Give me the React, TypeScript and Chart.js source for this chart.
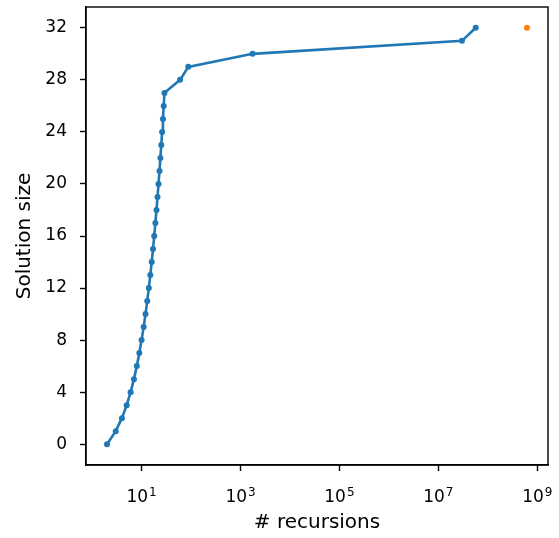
import React, { useEffect, useRef } from "react";
import { Chart, registerables } from "chart.js";

Chart.register(...registerables);

const recursions = [2, 3, 4, 5, 6, 7, 8, 9, 10, 11, 12, 13, 14, 15, 16, 17, 18, 19, 20, 21, 22, 23, 24, 25, 26, 27, 28, 29, 60, 88, 1750, 30000000, 57000000];
const solutionSize = [0, 1, 2, 3, 4, 5, 6, 7, 8, 9, 10, 11, 12, 13, 14, 15, 16, 17, 18, 19, 20, 21, 22, 23, 24, 25, 26, 27, 28, 29, 30, 31, 32];
const extraX = [620000000];
const extraY = [32];
const xTickValues = [10, 1000, 100000, 10000000, 1000000000];
const xTickBase = "10";
const xTickExponents = ["1", "3", "5", "7", "9"];
const yTickValues = [0, 4, 8, 12, 16, 20, 24, 28, 32];

const FONT = "'DejaVu Sans', sans-serif";

const boxPlugin = {
  id: "box",
  afterDraw(chart: any) {
    const { ctx, chartArea } = chart;
    ctx.save();
    ctx.strokeStyle = "#000";
    ctx.lineWidth = 1.4;
    ctx.strokeRect(chartArea.left, chartArea.top, chartArea.right - chartArea.left, chartArea.bottom - chartArea.top);
    // log tick labels with superscript exponents
    const xs = chart.scales.x;
    ctx.fillStyle = "#000";
    ctx.textBaseline = "alphabetic";
    ctx.textAlign = "left";
    xTickValues.forEach((v, i) => {
      const px = xs.getPixelForValue(v);
      ctx.font = `17px ${FONT}`;
      const wb = ctx.measureText(xTickBase).width;
      ctx.font = `12px ${FONT}`;
      const we = ctx.measureText(xTickExponents[i]).width;
      const start = px - (wb + we + 1) / 2;
      ctx.font = `17px ${FONT}`;
      ctx.fillText(xTickBase, start, 502);
      ctx.font = `12px ${FONT}`;
      ctx.fillText(xTickExponents[i], start + wb + 1, 496);
    });
    ctx.restore();
  },
};

export default function App() {
  const ref = useRef<HTMLCanvasElement>(null);
  useEffect(() => {
    const blue = recursions.map((x, i) => ({ x, y: solutionSize[i] }));
    const orange = extraX.map((x, i) => ({ x, y: extraY[i] }));
    const chart = new Chart(ref.current!, {
      type: "line",
      data: {
        datasets: [
          {
            data: blue,
            borderColor: "#1f77b4",
            backgroundColor: "#1f77b4",
            borderWidth: 2.6,
            pointRadius: 3,
            pointBorderWidth: 0,
            showLine: true,
          },
          {
            data: orange,
            borderColor: "#ff7f0e",
            backgroundColor: "#ff7f0e",
            pointRadius: 3,
            pointBorderWidth: 0,
            showLine: false,
          },
        ],
      },
      options: {
        animation: false,
        responsive: false,
        parsing: false as any,
        layout: { padding: { left: 0, right: 11, top: 7, bottom: 0 } },
        plugins: { legend: { display: false }, tooltip: { enabled: false } },
        scales: {
          x: {
            type: "logarithmic",
            min: Math.pow(10, -0.124),
            max: Math.pow(10, 9.217),
            afterBuildTicks: (s: any) => {
              s.ticks = xTickValues.map((v) => ({ value: v }));
            },
            afterFit: (s: any) => {
              s.height = 73;
              s.paddingLeft = 0;
              s.paddingRight = 0;
            },
            ticks: {
              display: false,
              autoSkip: false,
              maxRotation: 0,
            },
            grid: { drawOnChartArea: false, drawTicks: true, tickLength: 6, tickColor: "#000", tickWidth: 1.4 },
            border: { color: "#000", width: 1.4 },
            title: { display: true, text: "# recursions", color: "#000", font: { family: FONT, size: 20 }, padding: { top: 0, bottom: 3 } },
          },
          y: {
            type: "linear",
            min: -1.6,
            max: 33.6,
            afterBuildTicks: (s: any) => {
              s.ticks = yTickValues.map((v) => ({ value: v }));
            },
            afterFit: (s: any) => {
              s.width = 86;
              s.paddingTop = 0;
              s.paddingBottom = 0;
            },
            ticks: { color: "#000", padding: 13, font: { family: FONT, size: 17 } },
            grid: { drawOnChartArea: false, drawTicks: true, tickLength: 6, tickColor: "#000", tickWidth: 1.4 },
            border: { color: "#000", width: 1.4 },
            title: { display: true, text: "Solution size", color: "#000", font: { family: FONT, size: 20 }, padding: { top: 13, bottom: 0 } },
          },
        },
      },
      plugins: [boxPlugin],
    });
    return () => chart.destroy();
  }, []);
  return (
    <div style={{ position: "absolute", left: 0, top: 0, width: 559, height: 538, background: "#fff" }}>
      <canvas ref={ref} width={559} height={538} style={{ display: "block" }} />
    </div>
  );
}
